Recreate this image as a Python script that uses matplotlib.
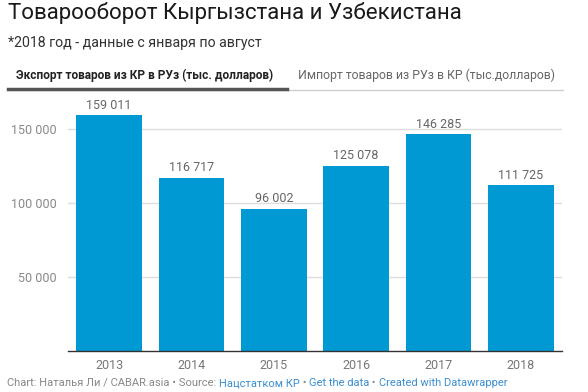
import matplotlib
matplotlib.use("Agg")
import matplotlib.pyplot as plt
from matplotlib.lines import Line2D

years = ["2013", "2014", "2015", "2016", "2017", "2018"]
export_values = [159011, 116717, 96002, 125078, 146285, 111725]
value_labels = ["159 011", "116 717", "96 002", "125 078", "146 285", "111 725"]
ytick_values = [50000, 100000, 150000]
ytick_labels = ["50 000", "100 000", "150 000"]

plt.rcParams['font.family'] = ['Roboto', 'DejaVu Sans']

W, H = 588, 392
fig = plt.figure(figsize=(W / 100, H / 100), dpi=100)
ax = fig.add_axes([68 / W, 1 - 351 / H, (562 - 68) / W, (351 - 105) / H])

bar_color = "#0099d3"
x = range(len(years))
ax.bar(x, export_values, width=0.8, color=bar_color, zorder=2)
for i, v in enumerate(export_values):
    ax.text(i, v + 2500, value_labels[i], ha="center", va="bottom",
            fontsize=9, color="#666666")

ax.set_xlim(-0.5, len(years) - 0.5)
ax.set_ylim(0, 166000)
ax.set_yticks(ytick_values)
ax.set_yticklabels(ytick_labels)
ax.set_xticks(list(x))
ax.set_xticklabels(years)
ax.tick_params(axis="y", length=0, pad=8, labelsize=9, labelcolor="#888888")
ax.tick_params(axis="x", length=0, pad=6, labelsize=9, labelcolor="#777777")
ax.grid(axis="y", color="#dddddd", linewidth=1, zorder=0)
for s in ["top", "right", "left"]:
    ax.spines[s].set_visible(False)
ax.spines["bottom"].set_color("#333333")
ax.spines["bottom"].set_linewidth(1)

# title and subtitle
fig.text(8 / W, 1 - 13 / H, "Товарооборот Кыргызстана и Узбекистана",
         fontsize=16, color="#1a1a1a", va="center", ha="left")
fig.text(8 / W, 1 - 43 / H, "*2018 год - данные с января по август",
         fontsize=10.2, color="#333333", va="center", ha="left")

# tabs
fig.text(16 / W, 1 - 75 / H, "Экспорт товаров из КР в РУз (тыс. долларов)",
         fontsize=8.6, color="#222222", fontweight="bold", va="center", ha="left")
fig.text(298 / W, 1 - 75 / H, "Импорт товаров из РУз в КР (тыс.долларов)",
         fontsize=8.8, color="#666666", va="center", ha="left")
fig.add_artist(Line2D([8 / W, 563 / W], [1 - 89.5 / H, 1 - 89.5 / H],
                      color="#d0d0d0", linewidth=1))
fig.add_artist(Line2D([8 / W, 287 / W], [1 - 89 / H, 1 - 89 / H],
                      color="#555555", linewidth=2.5))

# footer with mixed colours
parts = [("Chart: Наталья Ли / CABAR.asia • Source: ", "#888888"),
         ("Нацстатком КР", "#3a8fd0"),
         (" • ", "#888888"),
         ("Get the data", "#3a8fd0"),
         (" • ", "#888888"),
         ("Created with Datawrapper", "#3a8fd0")]
fig.canvas.draw()
renderer = fig.canvas.get_renderer()
xpos = 7 / W
for txt, col in parts:
    t = fig.text(xpos, 1 - 383 / H, txt, fontsize=8.0, color=col,
                 va="center", ha="left")
    bb = t.get_window_extent(renderer=renderer)
    xpos += bb.width / W

fig.savefig("out.png", dpi=100)
